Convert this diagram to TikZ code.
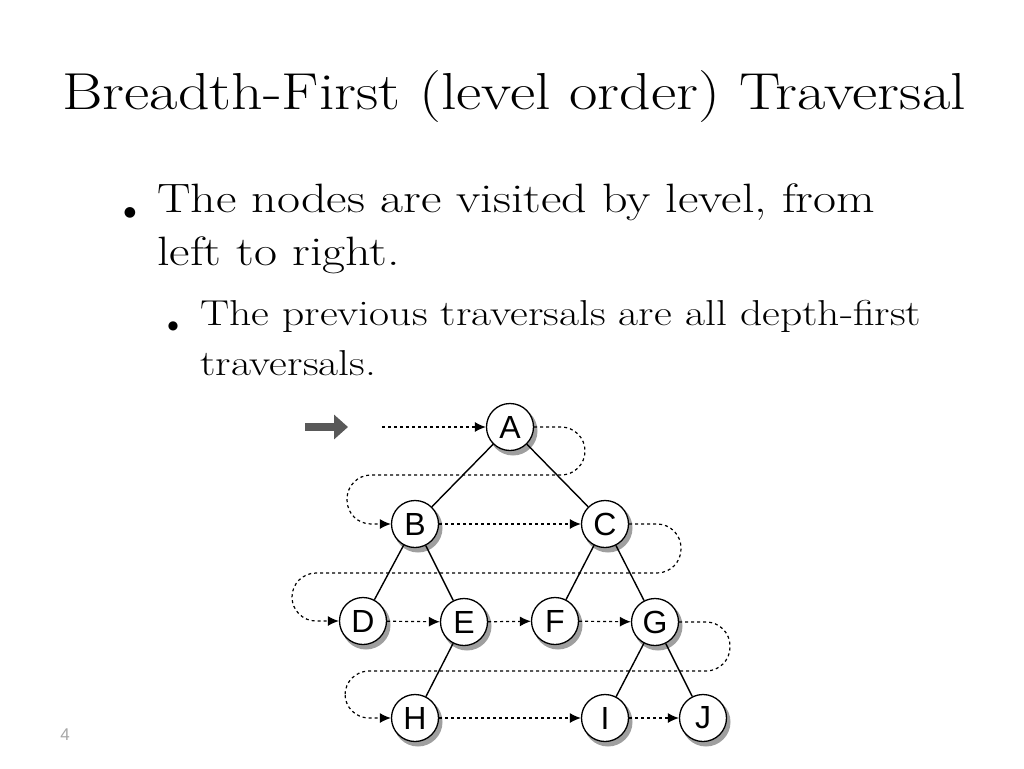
\documentclass[tikz,border=0pt]{standalone}
\usepackage{fontspec}
\usepackage{graphicx}
\newfontfamily\nodefont{Liberation Sans}
\newfontfamily\symfont{DejaVu Sans}
\usetikzlibrary{arrows.meta,shadows}
\begin{document}
\begin{tikzpicture}[x=1pt,y=-1pt,
  tn/.style={circle,draw,line width=1.3pt,fill=white,minimum size=47pt,inner sep=0pt,font=\nodefont\fontsize{32}{32}\selectfont},
  edge/.style={line width=1.4pt},
  trav/.style={dashed,line width=1.2pt,rounded corners=24pt,-{Latex[length=11pt,width=10pt]}}]
\useasboundingbox (0,0) rectangle (1024,768);
\node[anchor=west,font=\fontsize{52}{54}\selectfont,inner sep=0pt] (title) at (62,97) {\scalebox{1.19}[1]{Breadth-First (level order) Traversal}};
\node[font=\symfont\fontsize{14}{14}\selectfont] (b1) at (130,213) {●};
\node[anchor=north west,align=left,inner sep=0pt,font=\fontsize{41}{53}\selectfont] (t1) at (157,184) {\scalebox{1.22}[1]{The nodes are visited by level, from}\\\scalebox{1.22}[1]{left to right.}};
\node[font=\symfont\fontsize{12}{12}\selectfont] (b2) at (173,326) {●};
\node[anchor=north west,align=left,inner sep=0pt,font=\fontsize{36}{50}\selectfont] (t2) at (200,300) {\scalebox{1.21}[1]{The previous traversals are all depth-first}\\\scalebox{1.21}[1]{traversals.}};
\node[text=gray!70,font=\nodefont\fontsize{17}{17}\selectfont] (pg) at (65,735) {4};

\foreach \n/\x/\y in {A/510/427,B/415/524,C/605/524,D/363/621,E/464/622,F/555/621,G/655/622,H/415/718,I/605/718,J/703/718}
  {\fill[gray!75] (\x+3,\y+4) circle (24.5pt);}
\node[tn] (A) at (510,427) {A};
\node[tn] (B) at (415,524) {B};
\node[tn] (C) at (605,524) {C};
\node[tn] (D) at (363,621) {D};
\node[tn] (E) at (464,622) {E};
\node[tn] (F) at (555,621) {F};
\node[tn] (G) at (655,622) {G};
\node[tn] (H) at (415,718) {H};
\node[tn] (I) at (605,718) {I};
\node[tn] (J) at (703,718) {J};

\draw[edge] (A) -- (B); \draw[edge] (A) -- (C);
\draw[edge] (B) -- (D); \draw[edge] (B) -- (E);
\draw[edge] (C) -- (F); \draw[edge] (C) -- (G);
\draw[edge] (E) -- (H); \draw[edge] (G) -- (I); \draw[edge] (G) -- (J);

\coordinate (s) at (382,427);
\coordinate (bigs) at (305,427);
\coordinate (bige) at (348,427);
\draw[line width=8pt,draw=gray!70!black,-{Triangle[length=14pt,width=24pt]}] (bigs) -- (bige);
\draw[trav] (s) -- (A.west);
\draw[trav] (A.east) -- (585,427) -- (585,475) -- (347,475) -- (347,524) -- (B.west);
\draw[trav] (B) -- (C);
\draw[trav] (C.east) -- (681,524) -- (681,573) -- (292,573) -- (292,621) -- (D.west);
\draw[trav] (D) -- (E);
\draw[trav] (E) -- (F);
\draw[trav] (F) -- (G);
\draw[trav] (G.east) -- (730,622) -- (730,671) -- (345,671) -- (345,718) -- (H.west);
\draw[trav] (H) -- (I);
\draw[trav] (I) -- (J);
\end{tikzpicture}
\end{document}
